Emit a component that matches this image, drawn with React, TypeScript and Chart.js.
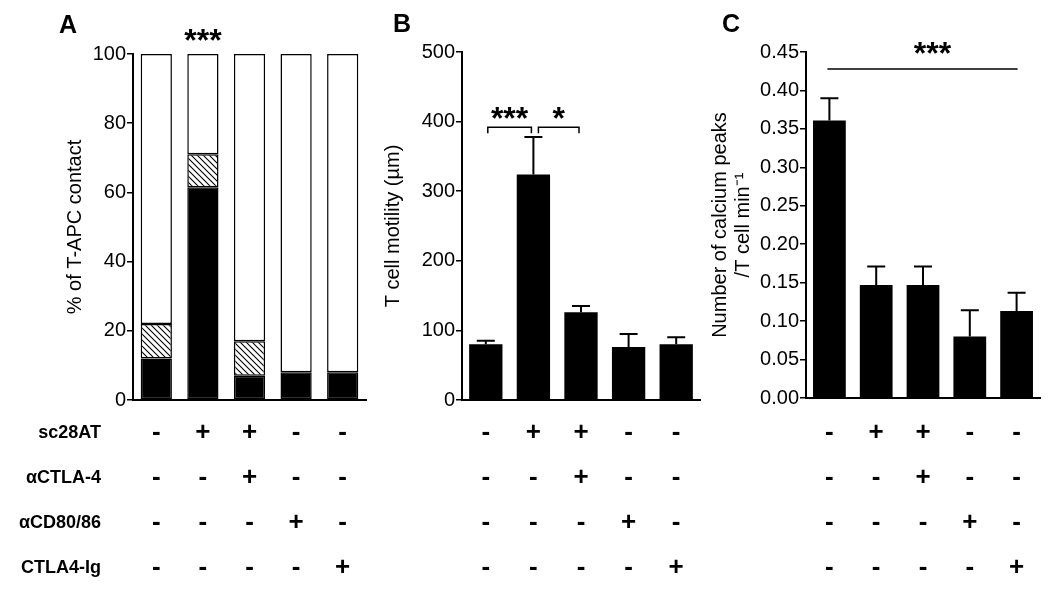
import React, { useEffect, useRef } from 'react';
import { Chart, registerables } from 'chart.js';

Chart.register(...registerables);

const FONT = "'Liberation Sans', Arial, Helvetica, sans-serif";
Chart.defaults.font.family = FONT;
Chart.defaults.color = '#000';

// ---- data ----
const conditions = ['c1', 'c2', 'c3', 'c4', 'c5'];
const sc28AT = ['-', '+', '+', '-', '-'];
const aCTLA4 = ['-', '-', '+', '-', '-'];
const aCD8086 = ['-', '-', '-', '+', '-'];
const ctla4Ig = ['-', '-', '-', '-', '+'];
const rowNames = ['sc28AT', 'αCTLA-4', 'αCD80/86', 'CTLA4-Ig'];

const contactStable = [12, 61.5, 7, 8, 8];
const contactTransient = [10, 9.5, 10, 0, 0];
const contactNone = [78, 29, 83, 92, 92];

const motility = [80, 324, 126, 76, 80];
const motilitySem = [5, 54, 9, 19, 10];

const calcium = [0.361, 0.147, 0.147, 0.08, 0.113];
const calciumSem = [0.029, 0.024, 0.024, 0.034, 0.024];

const contactAxis = { min: 0, max: 100, step: 20 };
const motilityAxis = { min: 0, max: 500, step: 100 };
const calciumAxis = { min: 0, max: 0.45, step: 0.05 };

const axisTitles = {
  a: '% of T-APC contact',
  b: 'T cell motility (µm)',
  c: ['Number of calcium peaks', '/T cell min⁻¹'],
};

const motilityBrackets = [
  { from: 0, to: 1, y: 392, text: '***' },
  { from: 1, to: 2, y: 392, text: '*' },
];
const calciumLine = { from: 0, to: 4, y: 0.428, text: '***' };
const contactMark = { at: 1, text: '***' };

const xLabels = conditions.map((_, i) => [sc28AT[i], aCTLA4[i], aCD8086[i], ctla4Ig[i]]);

const ROW_H = 45;
const TICK_FONT = 26;

function hatchPattern(): CanvasPattern | string {
  const c = document.createElement('canvas');
  c.width = 6;
  c.height = 6;
  const g = c.getContext('2d');
  if (!g) return '#888';
  g.fillStyle = '#fff';
  g.fillRect(0, 0, 6, 6);
  g.strokeStyle = '#000';
  g.lineWidth = 1.1;
  g.beginPath();
  g.moveTo(-1, -1);
  g.lineTo(7, 7);
  g.moveTo(-1, 5);
  g.lineTo(1, 7);
  g.moveTo(5, -1);
  g.lineTo(7, 1);
  g.stroke();
  return g.createPattern(c, 'repeat') || '#888';
}

function drawStars(ctx: CanvasRenderingContext2D, text: string, x: number, cy: number) {
  ctx.save();
  ctx.font = `bold 32px ${FONT}`;
  ctx.textAlign = 'center';
  ctx.textBaseline = 'middle';
  ctx.fillStyle = '#000';
  ctx.fillText(text, x, cy + 7.5);
  ctx.restore();
}

function drawLetter(ctx: CanvasRenderingContext2D, letter: string, x: number, y: number) {
  ctx.save();
  ctx.font = `bold 25px ${FONT}`;
  ctx.textAlign = 'left';
  ctx.textBaseline = 'alphabetic';
  ctx.fillStyle = '#000';
  ctx.fillText(letter, x, y);
  ctx.restore();
}

function errorBarPlugin(values: number[], sems: number[]) {
  return {
    id: 'errbars',
    afterDatasetsDraw(chart: any) {
      const { ctx, scales } = chart;
      const xs = scales.x;
      const ys = scales.y;
      ctx.save();
      ctx.strokeStyle = '#000';
      ctx.lineWidth = 2;
      values.forEach((v, i) => {
        const x = xs.getPixelForValue(i);
        const y0 = ys.getPixelForValue(v);
        const y1 = ys.getPixelForValue(v + sems[i]);
        ctx.beginPath();
        ctx.moveTo(x, y0);
        ctx.lineTo(x, y1);
        ctx.moveTo(x - 9, y1);
        ctx.lineTo(x + 9, y1);
        ctx.stroke();
      });
      ctx.restore();
    },
  };
}

function baseOptions(cfg: {
  padTop: number;
  padRight: number;
  yWidth: number;
  xHeight: number;
  labelPad: number;
  axis: { min: number; max: number; step: number };
  title: string | string[];
  titlePad: number;
  titleLH: number;
  decimals: number;
  barPct: number;
  stacked: boolean;
}) {
  return {
    responsive: false,
    animation: false as const,
    layout: { padding: { top: cfg.padTop, right: cfg.padRight, bottom: 0, left: 0 } },
    plugins: { legend: { display: false }, tooltip: { enabled: false } },
    datasets: { bar: { barPercentage: cfg.barPct, categoryPercentage: 1 } },
    scales: {
      x: {
        stacked: cfg.stacked,
        grid: { display: false, drawTicks: false },
        border: { display: true, color: '#000', width: 2 },
        ticks: {
          autoSkip: false,
          maxRotation: 0,
          minRotation: 0,
          padding: cfg.labelPad,
          color: '#000',
          font: { size: TICK_FONT, weight: 'bold' as const, lineHeight: ROW_H / TICK_FONT },
        },
        afterFit: (s: any) => {
          s.height = cfg.xHeight;
        },
      },
      y: {
        stacked: cfg.stacked,
        min: cfg.axis.min,
        max: cfg.axis.max,
        grid: { display: true, drawOnChartArea: false, drawTicks: true, tickLength: 6, color: '#000', lineWidth: 1.5 },
        border: { display: true, color: '#000', width: 2 },
        ticks: {
          stepSize: cfg.axis.step,
          padding: 1,
          color: '#000',
          font: { size: 20 },
          callback: (v: any) => Number(v).toFixed(cfg.decimals),
        },
        title: {
          display: true,
          text: cfg.title,
          color: '#000',
          font: { size: 20, lineHeight: cfg.titleLH },
          padding: { top: cfg.titlePad, bottom: 0 },
        },
        afterFit: (s: any) => {
          s.width = cfg.yWidth;
        },
      },
    },
  };
}

export default function App() {
  const refA = useRef<HTMLCanvasElement>(null);
  const refB = useRef<HTMLCanvasElement>(null);
  const refC = useRef<HTMLCanvasElement>(null);

  useEffect(() => {
    const charts: Chart[] = [];

    // Panel A
    if (refA.current) {
      const annotA = {
        id: 'annotA',
        afterDraw(chart: any) {
          const { ctx, scales } = chart;
          drawLetter(ctx, 'A', 59, 33);
          drawStars(ctx, contactMark.text, scales.x.getPixelForValue(contactMark.at), 35);
          ctx.save();
          ctx.font = `bold 18px ${FONT}`;
          ctx.textAlign = 'right';
          ctx.textBaseline = 'middle';
          ctx.fillStyle = '#000';
          const top = scales.x.top + 10.5 + ROW_H / 2;
          rowNames.forEach((n, i) => ctx.fillText(n, 101, top + i * ROW_H));
          ctx.restore();
        },
      };
      const pat = hatchPattern();
      charts.push(
        new Chart(refA.current, {
          type: 'bar',
          data: {
            labels: xLabels as any,
            datasets: [
              { label: 'stable', data: contactStable, backgroundColor: '#000', borderColor: '#000', borderWidth: 1.5, borderSkipped: false },
              { label: 'transient', data: contactTransient, backgroundColor: pat as any, borderColor: '#000', borderWidth: 1.5, borderSkipped: false },
              { label: 'none', data: contactNone, backgroundColor: '#fff', borderColor: '#000', borderWidth: 1.5, borderSkipped: false },
            ],
          },
          options: baseOptions({
            padTop: 54, padRight: 14, yWidth: 133, xHeight: 191, labelPad: 10.5,
            axis: contactAxis, title: axisTitles.a, titlePad: 63, titleLH: 1.2, decimals: 0,
            barPct: 0.67, stacked: true,
          }) as any,
          plugins: [annotA],
        })
      );
    }

    // Panel B
    if (refB.current) {
      const annotB = {
        id: 'annotB',
        afterDraw(chart: any) {
          const { ctx, scales } = chart;
          drawLetter(ctx, 'B', 23, 32);
          ctx.save();
          ctx.strokeStyle = '#000';
          ctx.lineWidth = 1.5;
          motilityBrackets.forEach((b, k) => {
            const y = scales.y.getPixelForValue(b.y);
            const x1 = scales.x.getPixelForValue(b.from) + (k === 0 ? 2 : 5);
            const x2 = scales.x.getPixelForValue(b.to) - (k === 0 ? 2 : 2);
            ctx.beginPath();
            ctx.moveTo(x1, y + 6);
            ctx.lineTo(x1, y);
            ctx.lineTo(x2, y);
            ctx.lineTo(x2, y + 6);
            ctx.stroke();
            drawStars(ctx, b.text, (x1 + x2) / 2, y - 14);
          });
          ctx.restore();
        },
      };
      charts.push(
        new Chart(refB.current, {
          type: 'bar',
          data: {
            labels: xLabels as any,
            datasets: [{ label: 'motility', data: motility, backgroundColor: '#000', borderWidth: 0 }],
          },
          options: baseOptions({
            padTop: 52, padRight: 10, yWidth: 92, xHeight: 191, labelPad: 10.5,
            axis: motilityAxis, title: axisTitles.b, titlePad: 11, titleLH: 1.2, decimals: 0,
            barPct: 0.7, stacked: false,
          }) as any,
          plugins: [errorBarPlugin(motility, motilitySem), annotB],
        })
      );
    }

    // Panel C
    if (refC.current) {
      const annotC = {
        id: 'annotC',
        afterDraw(chart: any) {
          const { ctx, scales } = chart;
          drawLetter(ctx, 'C', 22, 32);
          const y = scales.y.getPixelForValue(calciumLine.y);
          const x1 = scales.x.getPixelForValue(calciumLine.from) - 2;
          const x2 = scales.x.getPixelForValue(calciumLine.to) + 1;
          ctx.save();
          ctx.strokeStyle = '#000';
          ctx.lineWidth = 1.5;
          ctx.beginPath();
          ctx.moveTo(x1, y);
          ctx.lineTo(x2, y);
          ctx.stroke();
          ctx.restore();
          drawStars(ctx, calciumLine.text, (x1 + x2) / 2 + 10, y - 21);
        },
      };
      charts.push(
        new Chart(refC.current, {
          type: 'bar',
          data: {
            labels: xLabels as any,
            datasets: [{ label: 'calcium', data: calcium, backgroundColor: '#000', borderWidth: 0 }],
          },
          options: baseOptions({
            padTop: 52, padRight: 10, yWidth: 106, xHeight: 193, labelPad: 12.5,
            axis: calciumAxis, title: axisTitles.c, titlePad: 8.5, titleLH: 1.15, decimals: 2,
            barPct: 0.7, stacked: false,
          }) as any,
          plugins: [errorBarPlugin(calcium, calciumSem), annotC],
        })
      );
    }

    return () => charts.forEach((c) => c.destroy());
  }, []);

  const wrap: React.CSSProperties = {
    position: 'fixed',
    left: 0,
    top: 0,
    width: 1050,
    height: 591,
    background: '#fff',
    overflow: 'hidden',
  };
  const cv = (left: number, width: number): React.CSSProperties => ({
    position: 'absolute',
    left,
    top: 0,
    width,
    height: 591,
  });

  return (
    <div style={wrap}>
      <canvas ref={refA} width={380} height={591} style={cv(0, 380)} />
      <canvas ref={refB} width={340} height={591} style={cv(370, 340)} />
      <canvas ref={refC} width={350} height={591} style={cv(700, 350)} />
    </div>
  );
}
